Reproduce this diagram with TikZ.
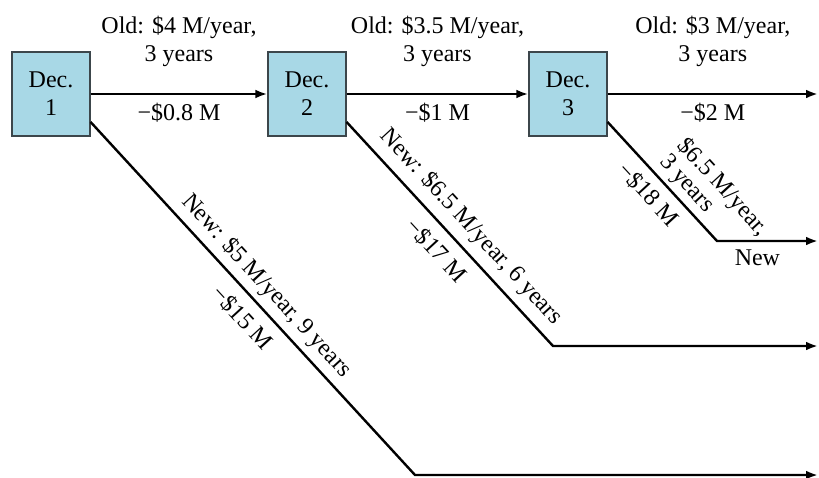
\documentclass[tikz,border=0pt]{standalone}
\usepackage{fontspec}
\setmainfont{Liberation Serif}
\usetikzlibrary{arrows.meta}
\definecolor{decblue}{RGB}{168, 216, 230}
\definecolor{decedge}{RGB}{60, 70, 75}

\begin{document}
\begin{tikzpicture}[
        x=0.5pt, y=-0.5pt,
        font=\fontsize{12}{14}\selectfont,
        decbox/.style={rectangle, draw=decedge, fill=decblue, line width=0.6pt,
                       minimum width=39pt, minimum height=42pt, inner sep=0pt,
                       align=center},
        branch/.style={line width=1.2pt},
        arrow/.style={branch, -{Latex[length=6pt, width=4.4pt]}},
        lbl/.style={inner sep=1pt}
      ]
        \useasboundingbox (0,0) rectangle (819,477);
        \node[decbox] (dec1) at (51,94) {Dec.\\1};
        \node[decbox] (dec2) at (307,94) {Dec.\\2};
        \node[decbox] (dec3) at (568,94) {Dec.\\3};
        \coordinate (old3) at (818,94);
        \coordinate (turn1) at (415,475);
        \coordinate (end1) at (818,475);
        \coordinate (turn2) at (553,346);
        \coordinate (end2) at (818,346);
        \coordinate (turn3) at (717,241);
        \coordinate (end3) at (818,241);
        % keep the old machine
        \draw[arrow] (dec1) -- node[lbl, above=12pt, align=center] {Old: \$4 M/year,\\3 years}
                              node[lbl, below=3pt] {−\$0.8 M} (dec2);
        \draw[arrow] (dec2) -- node[lbl, above=12pt, align=center] {Old: \$3.5 M/year,\\3 years}
                              node[lbl, below=3pt] {−\$1 M} (dec3);
        \draw[arrow] (dec3) -- node[lbl, above=12pt, align=center] {Old: \$3 M/year,\\3 years}
                              node[lbl, below=3pt] {−\$2 M} (old3);
        % buy a new one
        \draw[arrow] ([yshift=-14pt]dec1.east)
            -- node[lbl, sloped, above=2pt, pos=0.5] {New: \$5 M/year, 9 years}
               node[lbl, sloped, below=4pt, pos=0.515] {−\$15 M} (turn1)
            -- (end1);
        \draw[arrow] ([yshift=-14pt]dec2.east)
            -- node[lbl, sloped, above=3pt, pos=0.53] {New: \$6.5 M/year, 6 years}
               node[lbl, sloped, below=4pt, pos=0.51] {−\$17 M} (turn2)
            -- (end2);
        \draw[arrow] ([yshift=-14pt]dec3.east)
            -- node[lbl, sloped, above=1pt, pos=0.78, align=left] {\$6.5 M/year,\\[-2pt]3 years}
               node[lbl, sloped, below=3pt, pos=0.5] {−\$18 M} (turn3)
            -- node[lbl, below=3pt, pos=0.4] {New} (end3);
      \end{tikzpicture}
\end{document}
